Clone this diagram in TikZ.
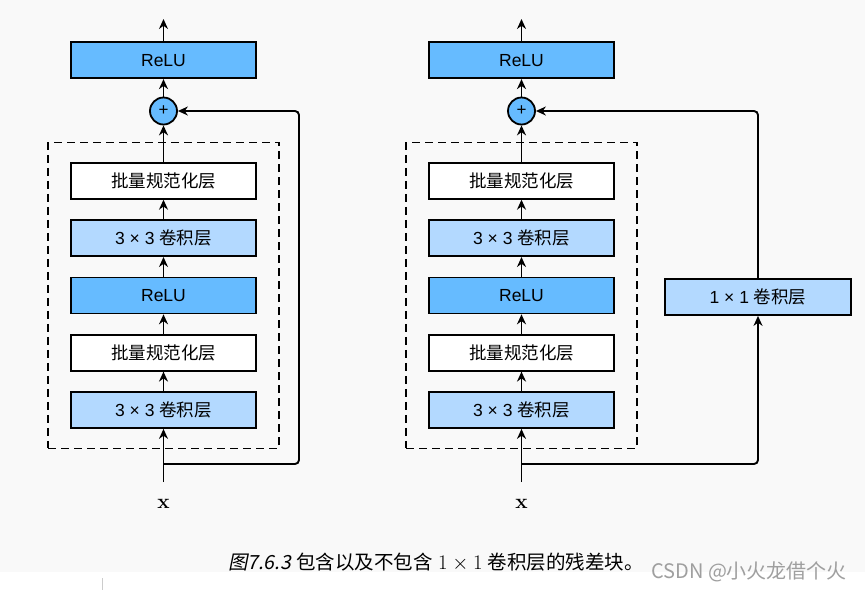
\documentclass[tikz,border=0pt]{standalone}
\usepackage[no-math]{fontspec}
\setmainfont{Liberation Sans}
\newfontfamily\cjk{Noto Sans CJK SC}
\newfontfamily\cjkslant[FakeSlant=0.2]{Noto Sans CJK SC}
\usetikzlibrary{positioning,fit,arrows.meta}
\definecolor{relublue}{HTML}{66BBFF}
\definecolor{convblue}{HTML}{B3D9FF}
\definecolor{pagegray}{HTML}{F9F9F9}

\begin{document}
\begin{tikzpicture}[x=1pt,y=-1pt,
            font=\fontsize{17.5}{20}\selectfont,
            node distance=19.5pt,
            every node/.style = {inner sep=0pt},
            layer/.style = {draw, line width=1.8pt, minimum width=185pt, minimum height=36pt},
            relu/.style = {layer, fill=relublue},
            conv/.style = {layer, fill=convblue},
            bn/.style = {layer, fill=white},
            addop/.style = {circle, draw, line width=1.8pt, fill=relublue, minimum size=27pt, font=\fontsize{17}{19}\selectfont},
            dashbox/.style = {draw, dashed, dash pattern=on 8pt off 5pt, line width=1.6pt, inner xsep=22pt, inner ysep=19.5pt},
            flow/.style = {line width=1.9pt, -{Stealth[length=10pt,width=9pt]}}
            ]
            \useasboundingbox (0,0) rectangle (865,590);
            \fill[white] (0,0) rectangle (865,590);
            \fill[pagegray] (0,0) rectangle (865,572);
            \draw[gray!40, line width=1pt] (102,578) -- (102,590);

            % left block: identity shortcut
            \node[conv] (convA1) at (163.5,410) {3 × 3 {\cjk 卷积层}};
            \node[bn, above=of convA1] (bnA1) {\cjk 批量规范化层};
            \node[relu, above=of bnA1] (reluA1) {ReLU};
            \node[conv, above=of reluA1] (convA2) {3 × 3 {\cjk 卷积层}};
            \node[bn, above=of convA2] (bnA2) {\cjk 批量规范化层};
            \node[addop, above=36.5pt of bnA2] (addA) {+};
            \node[relu, above=17.5pt of addA] (reluA2) {ReLU};
            \node[dashbox, fit=(convA1)(bnA2)] (blockA) {};
            \node[font=\fontsize{20}{22}\selectfont] (xA) at (163.5,504) {$\mathbf{x}$};
            \coordinate (inA) at (163.5,482);
            \coordinate (tapA) at (163.5,464);
            \coordinate (turnA) at (299,111);
            \coordinate (outA) at (163.5,19);

            \foreach \a/\b in {inA/convA1, convA1/bnA1, bnA1/reluA1, reluA1/convA2, convA2/bnA2, bnA2/addA, addA/reluA2, reluA2/outA}
                \draw[flow] (\a) -- (\b);
            \draw[flow, rounded corners=4pt] (tapA) -| (turnA) -- (addA);

            % right block: 1x1 conv shortcut
            \node[conv] (convB1) at (521.5,410) {3 × 3 {\cjk 卷积层}};
            \node[bn, above=of convB1] (bnB1) {\cjk 批量规范化层};
            \node[relu, above=of bnB1] (reluB1) {ReLU};
            \node[conv, above=of reluB1] (convB2) {3 × 3 {\cjk 卷积层}};
            \node[bn, above=of convB2] (bnB2) {\cjk 批量规范化层};
            \node[addop, above=36.5pt of bnB2] (addB) {+};
            \node[relu, above=17.5pt of addB] (reluB2) {ReLU};
            \node[dashbox, fit=(convB1)(bnB2)] (blockB) {};
            \node[conv, minimum width=186pt] (convS) at (758,297) {1 × 1 {\cjk 卷积层}};
            \node[font=\fontsize{20}{22}\selectfont] (xB) at (521.5,504) {$\mathbf{x}$};
            \coordinate (inB) at (521.5,482);
            \coordinate (tapB) at (521.5,464);
            \coordinate (outB) at (521.5,19);

            \foreach \a/\b in {inB/convB1, convB1/bnB1, bnB1/reluB1, reluB1/convB2, convB2/bnB2, bnB2/addB, addB/reluB2, reluB2/outB}
                \draw[flow] (\a) -- (\b);
            \draw[flow, rounded corners=4pt] (tapB) -| (convS);
            \draw[flow, rounded corners=4pt] (convS) |- (addB);

            % caption and watermark
            \node (caption) at (436,562) {\fontsize{19.5}{22}\selectfont{\cjkslant 图7.6.3} {\cjk 包含以及不包含} $1\times1$ {\cjk 卷积层的残差块。}};
            \node[anchor=west, text=gray!75] (mark) at (651,572) {\fontsize{20}{23}\selectfont\cjk CSDN @小火龙借个火};
          \end{tikzpicture}
\end{document}
